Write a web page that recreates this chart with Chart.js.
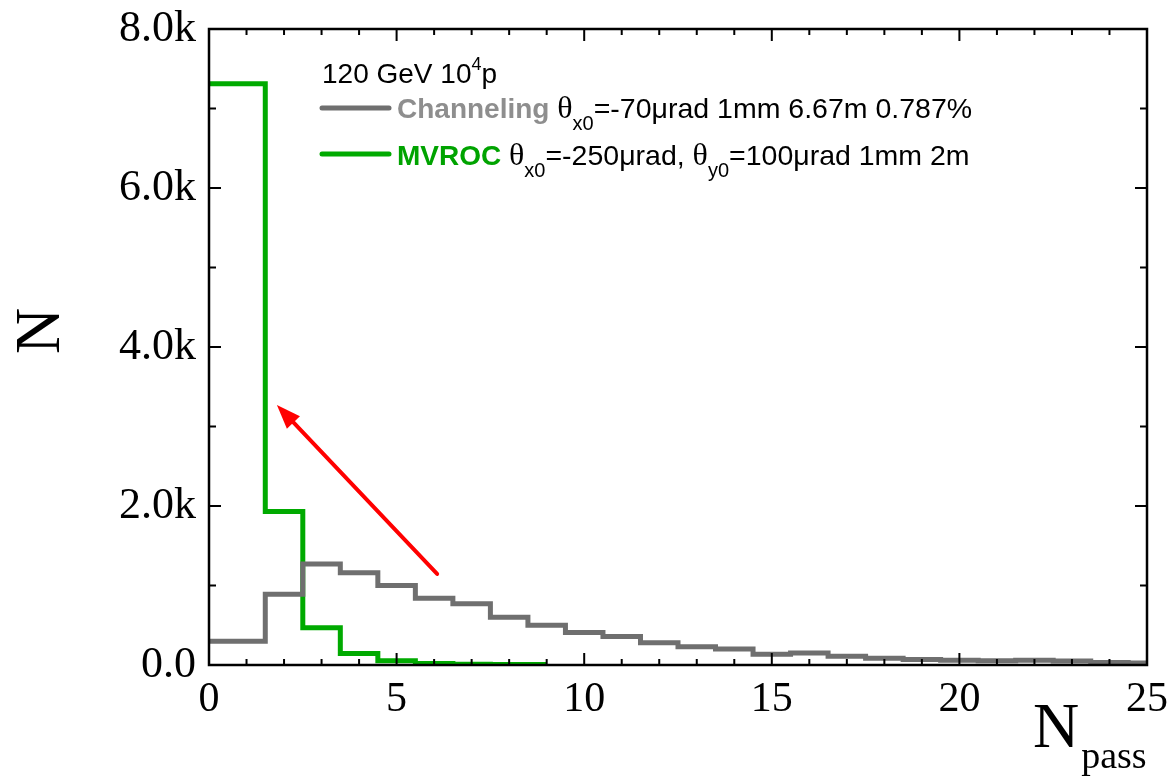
<!DOCTYPE html>
<html>
<head>
<meta charset="utf-8">
<script src="https://cdn.jsdelivr.net/npm/chart.js@4.4.1/dist/chart.umd.min.js"></script>
<style>
  html, body { margin: 0; padding: 0; background: #ffffff; }
  #wrap { width: 1174px; height: 780px; }
</style>
</head>
<body>
<div id="wrap"><canvas id="c" width="1174" height="780"></canvas></div>
<script>
// Histogram of the number of passes, two crystal set-ups (120 GeV, 10^4 protons)
const channelingEdges = [0, 1.5, 2.5, 3.5, 4.5, 5.5, 6.5, 7.5, 8.5, 9.5, 10.5, 11.5, 12.5,
  13.5, 14.5, 15.5, 16.5, 17.5, 18.5, 19.5, 20.5, 21.5, 22.5, 23.5, 24.5, 25];
const channelingCounts = [300, 890, 1270, 1160, 1000, 840, 770, 600, 500, 410, 360, 280, 230,
  200, 135, 150, 110, 85, 70, 60, 55, 60, 50, 30, 25];

const mvrocEdges = [0, 1.5, 2.5, 3.5, 4.5, 5.5, 6.5, 7.5, 8.5, 9];
const mvrocCounts = [7310, 1930, 470, 145, 52, 18, 10, 7, 5];

const xTickValues = [0, 5, 10, 15, 20, 25];
const yTickValues = [0, 2000, 4000, 6000, 8000];

// annotation arrow, in data units (N_pass, N)
const arrowFrom = [6.08, 1145];
const arrowTo = [1.81, 3270];

const GREY_LINE = '#6f6f6f';
const GREY_TEXT = '#8e8e8e';
const GREEN = '#00aa00';
const GREEN_TEXT = '#00a300';

function stepPoints(edges, counts) {
  const pts = counts.map((v, i) => ({ x: edges[i], y: v }));
  pts.push({ x: edges[edges.length - 1], y: counts[counts.length - 1] });
  return pts;
}

function drawRich(ctx, x, baseline, parts) {
  let cx = x;
  for (const p of parts) {
    ctx.font = p.font;
    ctx.fillStyle = p.color || '#000';
    ctx.textBaseline = 'alphabetic';
    ctx.textAlign = 'left';
    ctx.fillText(p.text, cx, baseline + (p.dy || 0));
    cx += ctx.measureText(p.text).width + (p.gap || 0);
  }
}

const decor = {
  id: 'decor',
  afterDraw(chart) {
    const ctx = chart.ctx;
    const a = chart.chartArea;
    const xs = chart.scales.x, ys = chart.scales.y;
    ctx.save();

    // frame
    ctx.strokeStyle = '#000';
    ctx.lineWidth = 2.5;
    ctx.strokeRect(a.left, a.top, a.right - a.left, a.bottom - a.top);

    // inward ticks on all four sides
    ctx.lineWidth = 2;
    ctx.beginPath();
    for (let v = 0; v <= 25; v += 1) {
      const px = xs.getPixelForValue(v);
      const len = (v % 5 === 0) ? 12 : 6;
      ctx.moveTo(px, a.bottom); ctx.lineTo(px, a.bottom - len);
      ctx.moveTo(px, a.top); ctx.lineTo(px, a.top + len);
    }
    for (let v = 0; v <= 8000; v += 1000) {
      const py = ys.getPixelForValue(v);
      const len = (v % 2000 === 0) ? 12 : 7;
      ctx.moveTo(a.left, py); ctx.lineTo(a.left + len, py);
      ctx.moveTo(a.right, py); ctx.lineTo(a.right - len, py);
    }
    ctx.stroke();

    // axis titles
    ctx.fillStyle = '#000';
    ctx.font = '64px "Liberation Serif"';
    ctx.textAlign = 'center';
    ctx.textBaseline = 'middle';
    ctx.save();
    ctx.translate(40, 331);
    ctx.rotate(-Math.PI / 2);
    ctx.fillText('N', 0, 2);
    ctx.restore();

    drawRich(ctx, 1033, 747, [
      { text: 'N', font: '64px "Liberation Serif"', gap: 2 },
      { text: 'pass', font: '38px "Liberation Serif"', dy: 21 }
    ]);

    // legend block
    const main = '28.5px "Liberation Sans"';
    const bold = 'bold 28px "Liberation Sans"';
    const greek = '32px "Liberation Serif"';
    const sub = '20px "Liberation Sans"';

    drawRich(ctx, 322, 83, [
      { text: '120 GeV 10', font: '28px "Liberation Sans"' },
      { text: '4', font: '18px "Liberation Sans"', dy: -13 },
      { text: 'p', font: '28px "Liberation Sans"' }
    ]);

    ctx.lineCap = 'round';
    ctx.lineWidth = 5;
    ctx.strokeStyle = GREY_LINE;
    ctx.beginPath(); ctx.moveTo(322, 108); ctx.lineTo(389, 108); ctx.stroke();
    ctx.strokeStyle = GREEN;
    ctx.beginPath(); ctx.moveTo(322, 154); ctx.lineTo(389, 154); ctx.stroke();

    drawRich(ctx, 397, 118, [
      { text: 'Channeling ', font: bold, color: GREY_TEXT },
      { text: 'θ', font: greek },
      { text: 'x0', font: sub, dy: 12 },
      { text: '=-70μrad 1mm 6.67m 0.787%', font: main }
    ]);
    drawRich(ctx, 397, 165, [
      { text: 'MVROC ', font: bold, color: GREEN_TEXT },
      { text: 'θ', font: greek },
      { text: 'x0', font: sub, dy: 12 },
      { text: '=-250μrad, ', font: main },
      { text: 'θ', font: greek },
      { text: 'y0', font: sub, dy: 12 },
      { text: '=100μrad 1mm 2m', font: main }
    ]);

    // red arrow
    const x1 = xs.getPixelForValue(arrowFrom[0]), y1 = ys.getPixelForValue(arrowFrom[1]);
    const x2 = xs.getPixelForValue(arrowTo[0]), y2 = ys.getPixelForValue(arrowTo[1]);
    const ang = Math.atan2(y2 - y1, x2 - x1);
    const headLen = 24, headHalf = 9;
    const bx = x2 - headLen * Math.cos(ang), by = y2 - headLen * Math.sin(ang);
    ctx.strokeStyle = '#ff0000';
    ctx.fillStyle = '#ff0000';
    ctx.lineWidth = 4;
    ctx.beginPath(); ctx.moveTo(x1, y1); ctx.lineTo(bx, by); ctx.stroke();
    ctx.beginPath();
    ctx.moveTo(x2, y2);
    ctx.lineTo(bx + headHalf * Math.sin(ang), by - headHalf * Math.cos(ang));
    ctx.lineTo(bx - headHalf * Math.sin(ang), by + headHalf * Math.cos(ang));
    ctx.closePath();
    ctx.fill();

    ctx.restore();
  }
};

new Chart(document.getElementById('c'), {
  type: 'line',
  data: {
    datasets: [
      {
        label: 'Channeling',
        data: stepPoints(channelingEdges, channelingCounts),
        stepped: 'before',
        borderColor: GREY_LINE,
        borderWidth: 5,
        pointRadius: 0,
        fill: false
      },
      {
        label: 'MVROC',
        data: stepPoints(mvrocEdges, mvrocCounts),
        stepped: 'before',
        borderColor: GREEN,
        borderWidth: 5,
        pointRadius: 0,
        fill: false
      }
    ]
  },
  options: {
    responsive: false,
    devicePixelRatio: 1,
    animation: false,
    events: [],
    layout: { padding: { left: 0, top: 29, right: 27, bottom: 0 } },
    plugins: { legend: { display: false }, tooltip: { enabled: false } },
    scales: {
      x: {
        type: 'linear',
        min: 0, max: 25,
        grid: { display: false, drawTicks: false },
        border: { display: false },
        afterFit(s) { s.height = 115; s.paddingLeft = 0; s.paddingRight = 0; },
        afterBuildTicks(s) { s.ticks = xTickValues.map(v => ({ value: v })); },
        ticks: {
          color: '#000',
          font: { family: 'Liberation Serif', size: 42 },
          padding: 10,
          maxRotation: 0,
          callback: v => String(v)
        }
      },
      y: {
        type: 'linear',
        min: 0, max: 8000,
        grid: { display: false, drawTicks: false },
        border: { display: false },
        afterFit(s) { s.width = 209; s.paddingTop = 0; s.paddingBottom = 0; },
        afterBuildTicks(s) { s.ticks = yTickValues.map(v => ({ value: v })); },
        ticks: {
          color: '#000',
          font: { family: 'Liberation Serif', size: 44 },
          padding: 13,
          callback: v => v === 0 ? '0.0' : (v / 1000).toFixed(1) + 'k'
        }
      }
    }
  },
  plugins: [decor]
});
</script>
</body>
</html>
